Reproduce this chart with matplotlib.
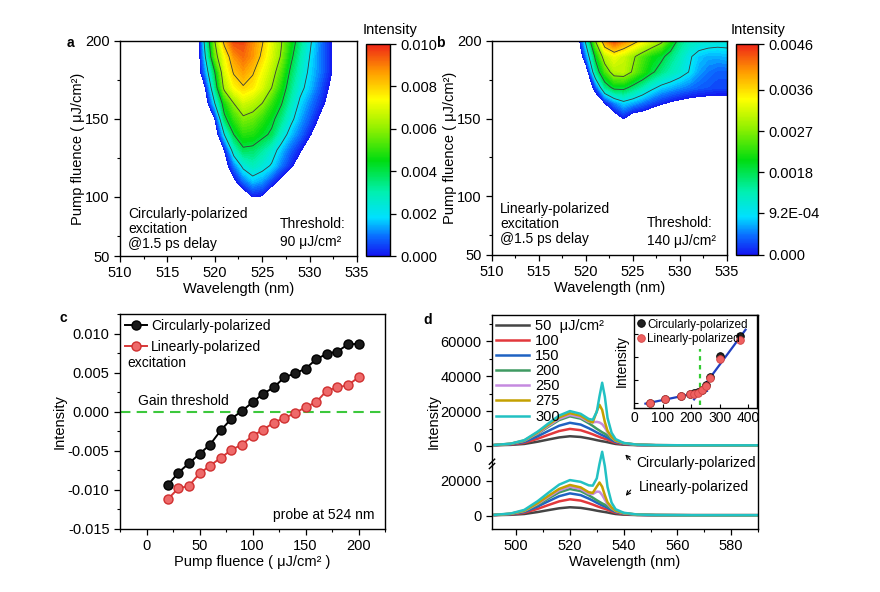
import numpy as np
import matplotlib
matplotlib.use('Agg')
import matplotlib.pyplot as plt
from matplotlib.colors import LinearSegmentedColormap, Normalize
from matplotlib.cm import ScalarMappable
from matplotlib.ticker import AutoMinorLocator, FixedLocator

plt.rcParams['font.family'] = ['Liberation Sans', 'DejaVu Sans']
plt.rcParams['font.size'] = 10

# ---- panel a: circular excitation, intensity map (values x 1e-3) ----
a_wl = [516, 518, 519, 520, 521, 522, 523, 524, 525, 526, 527, 528, 529, 530, 531, 532, 534]
a_flu = [100, 110, 120, 130, 140, 150, 160, 170, 180, 190, 200]
a_vals = [
    [-7, -6, -5, -4, -3, -2, -1, 0.05, -0.1, -1, -1.5, -2, -2.7, -3.3, -4, -4.5, -5.5],
    [-6, -5, -4, -3, -1.8, -0.3, 0.9, 1.6, 1.3, 0.5, -0.3, -1, -1.7, -2.3, -3, -3.5, -4.5],
    [-5.5, -4.5, -3.5, -2.5, -0.7, 1.0, 2.3, 2.8, 2.4, 1.9, 1.0, 0.2, -0.6, -1.3, -2, -2.6, -4],
    [-5, -4, -3, -1.8, 0, 2.6, 3.8, 3.7, 3.2, 2.5, 1.6, 0.8, 0.1, -0.6, -1.3, -2, -3.5],
    [-4.5, -3.5, -2.5, -1, 2, 4, 4.9, 4.8, 4.3, 3.8, 2.6, 1.6, 0.9, 0.1, -0.6, -1.2, -3],
    [-4, -3, -2, 0, 3.7, 5.0, 5.8, 5.6, 5.0, 4.3, 3.4, 2.3, 1.4, 0.7, -0.1, -0.8, -2.5],
    [-3.5, -2.5, -0.8, 2, 4.6, 6.0, 6.8, 6.5, 6.0, 5.0, 4.1, 2.9, 1.8, 1.1, 0.4, -0.3, -2],
    [-3, -2, 0, 3.3, 6.3, 7.4, 7.9, 7.6, 6.9, 6.0, 4.7, 3.4, 2.3, 1.6, 0.8, 0, -1.8],
    [-3, -1.2, 1.2, 4, 6.9, 8.1, 8.6, 8.1, 7.3, 6.5, 5.3, 3.8, 2.7, 1.8, 1.1, 0.3, -1.5],
    [-3, -1.5, 2, 5.5, 7.3, 8.7, 9.2, 8.7, 7.8, 6.9, 5.9, 4.3, 3.0, 2.0, 1.1, 0.3, -1.5],
    [-3, -1.7, 2.6, 6, 8.3, 9.6, 9.6, 8.8, 8.1, 7.1, 6.1, 4.7, 3.4, 2.2, 1.2, 0.3, -1.5],
]

# ---- panel b: linear excitation, intensity map (values x 1e-4) ----
b_wl = [518, 519, 520, 521, 522, 523, 524, 525, 526, 527, 528, 529, 530, 531, 532, 533, 534, 535]
b_flu = [150, 160, 170, 180, 190, 200]
b_vals = [
    [-30, -25, -20, -14, -8, -3.8, 0.1, -3.8, -4, -5.8, -9, -10, -10, -10, -10, -10, -10, -10],
    [-25, -18, -12, -5, 0, 5, 8, 6.5, 4.5, 2.5, 0.9, -0.6, -1.5, -2.3, -2.5, -2.6, -2.6, -2.6],
    [-18, -12, -6, 2.3, 15, 19.5, 19.5, 16.5, 13.6, 10.4, 8, 6.8, 5.5, 4.5, 3.5, 3, 2.5, 2.5],
    [-15, -10, -4, 14.2, 23.7, 29.5, 30, 26.4, 22.6, 18.8, 15.8, 13.4, 11.3, 9, 6, 4.5, 3.5, 3.5],
    [-15, -8, 4.6, 19.2, 30, 33, 31, 27.8, 24.4, 21.2, 19.2, 15.9, 13, 9.8, 7.5, 6.5, 6.5, 7],
    [-15, -5, 10.7, 27, 40, 44, 41, 38, 34.7, 31.5, 28.3, 22, 16, 13, 12, 11.5, 11, 11],
]

# ---- panel c: intensity at 524 nm vs pump fluence ----
c_flu = [20, 30, 40, 50, 60, 70, 80, 90, 100, 110, 120, 130, 140, 150, 160, 170, 180, 190, 200]
c_circ = [-0.0094, -0.0078, -0.0066, -0.0054, -0.0042, -0.0024, -0.0009, 0.0001, 0.0012, 0.0023,
          0.0031, 0.0044, 0.0049, 0.0055, 0.0067, 0.0074, 0.0077, 0.0086, 0.0087]
c_lin = [-0.0112, -0.0098, -0.0095, -0.0079, -0.0069, -0.0059, -0.0049, -0.0042, -0.0031, -0.0023,
         -0.0014, -0.0008, -0.0002, 0.0006, 0.0012, 0.0027, 0.0031, 0.0034, 0.0044]

# ---- panel d: emission spectra ----
spec_wl = [492, 498, 503, 508, 512, 516, 520, 524, 527, 528.5, 530, 531, 532, 533, 534, 535.5, 537,
           540, 545, 552, 565, 590]
fluence_labels = ['50  μJ/cm²', '100', '150', '200', '250', '275', '300']
spec_colors = ['#454545', '#e2383c', '#1f62c2', '#3f9a62', '#c58ae0', '#c4a000', '#22c1c3']
circ_spectra = [
    [450, 660, 1180, 2480, 3730, 4920, 5600, 5180, 4350, 3880, 3360, 3050, 2740, 2480, 2170, 1650, 1180, 760, 500, 430, 400, 400],
    [490, 870, 1810, 4160, 6420, 8580, 9800, 9050, 7540, 6700, 5760, 5190, 4630, 4160, 3600, 2660, 1810, 1060, 590, 450, 400, 400],
    [530, 1050, 2340, 5560, 8660, 11620, 13300, 12270, 10200, 9040, 7750, 6980, 6210, 5560, 4790, 3500, 2340, 1300, 660, 470, 400, 400],
    [570, 1230, 2890, 7040, 11020, 14840, 17000, 15670, 13020, 11520, 9860, 8870, 7870, 7040, 6040, 4380, 2890, 1560, 730, 480, 400, 400],
    [570, 1270, 3010, 7360, 11540, 15540, 17800, 16410, 13920, 13560, 13820, 13470, 12530, 10560, 7920, 4980, 3010, 1620, 750, 490, 400, 400],
    [580, 1320, 3160, 7760, 12180, 16410, 18800, 17330, 14380, 13530, 19890, 23580, 20680, 13760, 8660, 5220, 3160, 1690, 770, 490, 400, 400],
    [600, 1380, 3340, 8240, 12940, 17450, 20000, 18430, 15500, 15030, 19570, 28400, 36220, 28240, 16060, 7600, 3940, 1770, 790, 500, 400, 400],
]
lin_spectra = [
    [450, 630, 1080, 2220, 3310, 4360, 4950, 4590, 3860, 3450, 2990, 2720, 2450, 2220, 1950, 1490, 1080, 720, 490, 420, 400, 400],
    [490, 860, 1770, 4040, 6220, 8320, 9500, 8770, 7320, 6500, 5590, 5040, 4500, 4040, 3490, 2580, 1770, 1040, 580, 450, 400, 400],
    [530, 1030, 2280, 5400, 8400, 11280, 12900, 11900, 9900, 8780, 7530, 6780, 6030, 5400, 4650, 3400, 2280, 1280, 650, 460, 400, 400],
    [550, 1150, 2650, 6400, 10000, 13450, 15400, 14200, 11800, 10450, 8950, 8050, 7150, 6400, 5500, 4000, 2650, 1450, 700, 480, 400, 400],
    [560, 1220, 2850, 6920, 10830, 14580, 16700, 15400, 12790, 12520, 13890, 13810, 11940, 9320, 6840, 4510, 2850, 1540, 730, 480, 400, 400],
    [570, 1270, 3000, 7320, 11470, 15450, 17700, 16320, 13550, 13190, 16760, 19120, 16690, 11820, 7780, 4850, 3000, 1610, 750, 490, 400, 400],
    [600, 1400, 3420, 8440, 13260, 17890, 20500, 19500, 17500, 17300, 21500, 29700, 36700, 28500, 16500, 7600, 3800, 1810, 800, 500, 400, 400],
]
upper_offset = 40000  # the circular spectra sit above the axis break

# ---- inset: integrated intensity vs fluence (arb. units) ----
inset_flu = [55, 110, 165, 195, 210, 225, 238, 250, 265, 300, 370]
inset_circ = [5.6, 9.8, 12.8, 15.0, 15.8, 16.8, 19.5, 24.5, 33.0, 55.5, 77.5]
inset_lin = [5.4, 9.6, 12.5, 14.6, 15.4, 16.5, 19.0, 24.0, 32.5, 53.0, 73.0]
inset_threshold = 230

rainbow = LinearSegmentedColormap.from_list('origin_rainbow', [
    (0.0, '#1414f0'), (0.09, '#0a6cff'), (0.18, '#00e0ff'), (0.30, '#00f0b0'),
    (0.45, '#00dc10'), (0.60, '#90f000'), (0.74, '#ffff00'), (0.87, '#ff9a00'), (1.0, '#ee2418')])


def style_axes(ax):
    for s in ax.spines.values():
        s.set_linewidth(1.0)
    ax.tick_params(which='major', direction='out', length=4, width=0.9, labelsize=10.5)
    ax.tick_params(which='minor', direction='out', length=2, width=0.8)


fig = plt.figure(figsize=(8.8, 5.92), dpi=100)
W, H = 880.0, 592.0


def box(x0, y0, x1, y1):
    return [x0 / W, 1 - y1 / H, (x1 - x0) / W, (y1 - y0) / H]


def map_panel(rect, crect, wl, flu, vals, scale, vmax, lines, cticks, clabels, notes, note_y, thr, thr_x):
    ax = fig.add_axes(box(*rect))
    X, Y = np.meshgrid(wl, flu)
    Z = np.array(vals) * scale
    ax.contourf(X, Y, Z, levels=np.linspace(0, vmax, 61), cmap=rainbow, vmin=0, vmax=vmax)
    ax.contour(X, Y, Z, levels=lines, colors='#3a3a3a', linewidths=0.6)
    ax.set_xlim(510, 535)
    ax.set_ylim(62, 200)
    ax.set_xticks([510, 515, 520, 525, 530, 535])
    ax.xaxis.set_minor_locator(AutoMinorLocator(2))
    ax.set_yticks([62, 100, 150, 200])
    ax.set_yticklabels(['50', '100', '150', '200'])
    ax.yaxis.set_minor_locator(FixedLocator([75, 125, 175]))
    style_axes(ax)
    ax.set_xlabel('Wavelength (nm)', fontsize=10.5, labelpad=1)
    ax.set_ylabel('Pump fluence ( μJ/cm²)', fontsize=10.5, labelpad=0)
    ax.text(0.035, note_y, notes, transform=ax.transAxes, fontsize=10, va='center', ha='left',
            linespacing=1.1)
    ax.text(thr_x, 0.107, thr, transform=ax.transAxes, fontsize=10, va='center', ha='left',
            linespacing=1.3)
    cax = fig.add_axes(box(*crect))
    sm = ScalarMappable(norm=Normalize(0, vmax), cmap=rainbow)
    cb = fig.colorbar(sm, cax=cax, ticks=cticks)
    cb.ax.set_yticklabels(clabels)
    cb.outline.set_linewidth(1.0)
    cb.ax.tick_params(direction='out', length=4, width=0.9, labelsize=10.5)
    return ax


map_panel((120, 41, 357, 256), (366, 44, 390, 256), a_wl, a_flu, a_vals, 1e-3, 0.010,
          [0.002, 0.004, 0.006, 0.008],
          [0, 0.002, 0.004, 0.006, 0.008, 0.010],
          ['0.000', '0.002', '0.004', '0.006', '0.008', '0.010'],
          'Circularly-polarized\nexcitation\n@1.5 ps delay', 0.126, 'Threshold:\n90 μJ/cm²', 0.675)
map_panel((492, 41, 727, 255), (736, 44, 758, 255), b_wl, b_flu, b_vals, 1e-4, 0.0046,
          [0.00092, 0.0018, 0.0027, 0.0036],
          [0, 0.00092, 0.0018, 0.0027, 0.0036, 0.0046],
          ['0.000', '9.2E-04', '0.0018', '0.0027', '0.0036', '0.0046'],
          'Linearly-polarized\nexcitation\n@1.5 ps delay', 0.145, 'Threshold:\n140 μJ/cm²', 0.66)
fig.text(390 / W, 1 - 30 / H, 'Intensity', ha='center', va='center', fontsize=10.5)
fig.text(758 / W, 1 - 30 / H, 'Intensity', ha='center', va='center', fontsize=10.5)

# ---- panel c ----
axc = fig.add_axes(box(120, 314, 385, 529))
axc.axhline(0, color='#3cc83c', ls=(0, (5, 3)), lw=1.5, zorder=1)
axc.plot(c_flu, c_circ, '-o', color='black', lw=1.4, ms=6.5, mfc='#1a1a1a', mec='black',
         label='Circularly-polarized', zorder=3)
axc.plot(c_flu, c_lin, '-o', color='#d83838', lw=1.4, ms=6.5, mfc='#ee6a6a', mec='#d03030',
         label='Linearly-polarized', zorder=3)
axc.set_xlim(-25, 225)
axc.set_ylim(-0.015, 0.0125)
axc.set_xticks([0, 50, 100, 150, 200])
axc.set_yticks([-0.015, -0.010, -0.005, 0.0, 0.005, 0.010])
axc.set_yticklabels(['-0.015', '-0.010', '-0.005', '0.000', '0.005', '0.010'])
axc.xaxis.set_minor_locator(AutoMinorLocator(2))
axc.yaxis.set_minor_locator(AutoMinorLocator(2))
style_axes(axc)
axc.set_xlabel('Pump fluence ( μJ/cm² )', fontsize=10.5, labelpad=1)
axc.set_ylabel('Intensity', fontsize=10.5, labelpad=1)
axc.legend(loc='upper left', frameon=False, fontsize=10, handlelength=1.6, handletextpad=0.3,
           borderaxespad=0.15, labelspacing=0.5, borderpad=0.2)
axc.text(0.027, 0.772, 'excitation', transform=axc.transAxes, fontsize=10, va='center')
axc.text(-8, 0.0014, 'Gain threshold', fontsize=10, va='center')
axc.text(215, -0.0132, 'probe at 524 nm', fontsize=10, va='center', ha='right')

# ---- panel d ----
axd = fig.add_axes(box(492, 315, 758, 529))
for spec, col in zip(lin_spectra, spec_colors):
    axd.plot(spec_wl, spec, color=col, lw=1.8)
handles = []
for spec, col in zip(circ_spectra, spec_colors):
    h, = axd.plot(spec_wl, np.array(spec) + upper_offset, color=col, lw=1.8)
    handles.append(h)
axd.set_xlim(491, 590)
axd.set_ylim(-7500, 115000)
axd.set_xticks([500, 520, 540, 560, 580])
axd.xaxis.set_minor_locator(AutoMinorLocator(2))
axd.set_yticks([0, 20000, upper_offset, upper_offset + 20000, upper_offset + 40000, upper_offset + 60000])
axd.set_yticklabels(['0', '20000', '0', '20000', '40000', '60000'])
axd.yaxis.set_minor_locator(FixedLocator([10000, upper_offset + 10000, upper_offset + 30000,
                                          upper_offset + 50000, upper_offset + 70000]))
style_axes(axd)
axd.set_xlabel('Wavelength (nm)', fontsize=10.5, labelpad=1)
axd.set_ylabel('Intensity', fontsize=10.5, labelpad=0)
axd.legend(handles, fluence_labels, loc='upper left', frameon=False, fontsize=10.5,
           handlelength=2.3, handletextpad=0.4, labelspacing=0.08, borderaxespad=0.15,
           borderpad=0.1)
# axis break on the left spine
yb = (31000 + 7500) / 122500
axd.plot([-0.01, 0.01], [yb - 0.012, yb + 0.012], transform=axd.transAxes, color='black',
         lw=1.0, clip_on=False, zorder=5)
axd.plot([-0.01, 0.01], [yb - 0.032, yb - 0.008], transform=axd.transAxes, color='black',
         lw=1.0, clip_on=False, zorder=5)
axd.text(544.7, 30200, 'Circularly-polarized', fontsize=10, va='center')
axd.annotate('', xy=(539.9, 36300), xytext=(543.2, 30900),
             arrowprops=dict(arrowstyle='->', lw=0.8, color='black', mutation_scale=7))
axd.text(545.5, 16300, 'Linearly-polarized', fontsize=10, va='center')
axd.annotate('', xy=(540.1, 10300), xytext=(543.3, 16000),
             arrowprops=dict(arrowstyle='->', lw=0.8, color='black', mutation_scale=7))

# ---- inset ----
axi = fig.add_axes(box(634, 315, 757, 408))
axi.plot(inset_flu, inset_circ, 'o', ms=5.5, mfc='#202020', mec='black', mew=0.6,
         label='Circularly-polarized', zorder=3)
axi.plot(inset_flu, inset_lin, 'o', ms=5.5, mfc='#ee6060', mec='#d04040', mew=0.6,
         label='Linearly-polarized', zorder=4)
low = np.polyfit(inset_flu[:6], inset_lin[:6], 1)
high = np.polyfit(inset_flu[6:], inset_lin[6:], 1)
xl = np.array([40, 255])
xh = np.array([210, 390])
axi.plot(xl, np.polyval(low, xl), color='#1f3fc0', lw=1.6, zorder=2)
axi.plot(xh, np.polyval(high, xh), color='#1f3fc0', lw=1.6, zorder=2)
axi.plot([inset_threshold, inset_threshold], [3, 63], color='#33cc33', ls=(0, (2, 2)), lw=1.6,
         zorder=1)
axi.set_xlim(0, 430)
axi.set_ylim(0, 100)
axi.set_xticks([0, 100, 200, 300, 400])
axi.set_yticks([5, 30, 55, 80])
axi.set_yticklabels([])
for s in axi.spines.values():
    s.set_linewidth(1.0)
axi.tick_params(direction='in', length=3, width=0.8, labelsize=10, pad=2)
axi.set_ylabel('Intensity', fontsize=10, labelpad=2)
axi.legend(loc='upper left', frameon=False, fontsize=8.5, handlelength=0.6, handletextpad=0.2,
           labelspacing=0.25, borderaxespad=0.1, borderpad=0.2)

# panel letters
for letter, (px, py) in zip('abcd', [(70, 43), (440, 43), (63, 318), (428, 320)]):
    fig.text(px / W, 1 - py / H, letter, fontsize=10, fontweight='bold', ha='center', va='center')

fig.savefig('out.png', dpi=100)
